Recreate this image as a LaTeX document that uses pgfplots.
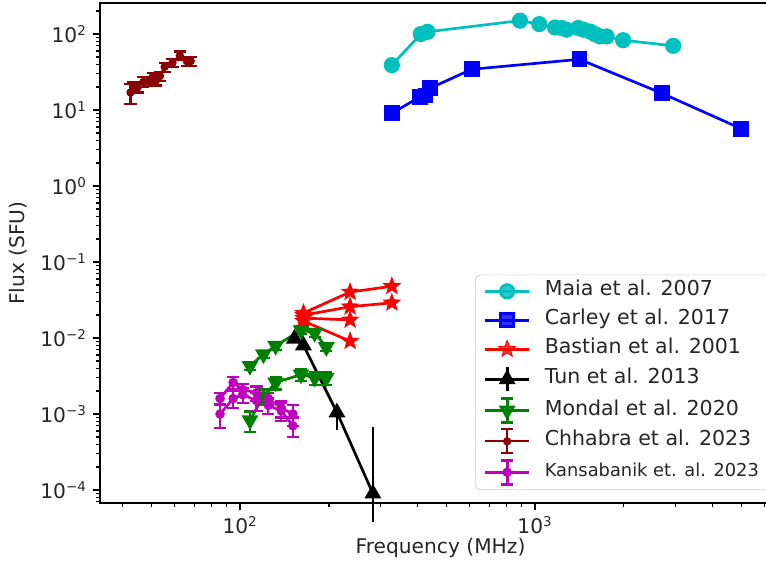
\documentclass[border=0pt]{standalone}
\usepackage{fontspec}
\setmainfont{DejaVu Sans}
\usepackage{pgfplots}
\pgfplotsset{compat=1.18}
\definecolor{cMaia}{HTML}{00BFBF}
\definecolor{cCar}{HTML}{0000FF}
\definecolor{cBas}{HTML}{FF0000}
\definecolor{cMon}{HTML}{008000}
\definecolor{cChh}{HTML}{8B0000}
\definecolor{cKan}{HTML}{BF00BF}
\pgfdeclareplotmark{fstar}{%
  \pgfpathmoveto{\pgfpointpolar{90}{\pgfplotmarksize}}%
  \pgfpathlineto{\pgfpointpolar{126}{0.42\pgfplotmarksize}}%
  \pgfpathlineto{\pgfpointpolar{162}{\pgfplotmarksize}}%
  \pgfpathlineto{\pgfpointpolar{198}{0.42\pgfplotmarksize}}%
  \pgfpathlineto{\pgfpointpolar{234}{\pgfplotmarksize}}%
  \pgfpathlineto{\pgfpointpolar{270}{0.42\pgfplotmarksize}}%
  \pgfpathlineto{\pgfpointpolar{306}{\pgfplotmarksize}}%
  \pgfpathlineto{\pgfpointpolar{342}{0.42\pgfplotmarksize}}%
  \pgfpathlineto{\pgfpointpolar{18}{\pgfplotmarksize}}%
  \pgfpathlineto{\pgfpointpolar{54}{0.42\pgfplotmarksize}}%
  \pgfpathclose
  \pgfusepathqfillstroke}
\pgfplotsset{
  ebleg/.style={legend image code/.code={
     \draw[##1,mark=none] (0cm,0cm) -- (0.92cm,0cm);
     \draw[##1,mark=none] (0.46cm,-0.25cm) -- (0.46cm,0.25cm);
     \draw[##1,mark=none] (0.34cm,-0.25cm) -- (0.58cm,-0.25cm) (0.34cm,0.25cm) -- (0.58cm,0.25cm);
     \path[##1] plot coordinates {(0.46cm,0cm)};}},
  ebnocap/.style={legend image code/.code={
     \draw[##1,mark=none] (0cm,0cm) -- (0.92cm,0cm);
     \draw[##1,mark=none] (0.46cm,-0.25cm) -- (0.46cm,0.25cm);
     \path[##1] plot coordinates {(0.46cm,0cm)};}},
  eb/.style={error bars/.cd, y dir=both, y explicit,
     error bar style={line width=1.3pt},
     error mark options={rotate=90, mark size=3.6pt, line width=1.3pt}},
  bas/.style={cBas, line width=1.6pt, mark=fstar, mark size=5.2pt, mark options={fill=cBas, line width=0.5pt}},
}
\newcommand{\lgx}[1]{\hspace*{6.5pt}#1}
\begin{document}
\begin{tikzpicture}
\begin{axis}[
  xmode=log, ymode=log,
  scale only axis, width=14.225cm, height=10.444cm,
  xmin=33.5, xmax=6826, ymin=6.74e-5, ymax=256,
  clip=false,
  axis line style={black, line width=0.9pt},
  tick pos=left, tick align=outside,
  major tick length=4.4pt, minor tick length=2.5pt,
  every tick/.style={black, line width=0.8pt},
  xtick={100,1000},
  xticklabels={10\textsuperscript{2},10\textsuperscript{3}},
  minor xtick={40,50,60,70,80,90,200,300,400,500,600,700,800,900,2000,3000,4000,5000,6000},
  ytick={1e-4,1e-3,1e-2,1e-1,1,10,100},
  yticklabels={10\textsuperscript{−4},10\textsuperscript{−3},10\textsuperscript{−2},10\textsuperscript{−1},10\textsuperscript{0},10\textsuperscript{1},10\textsuperscript{2}},
  minor ytick={7e-5,8e-5,9e-5,2e-4,3e-4,4e-4,5e-4,6e-4,7e-4,8e-4,9e-4,2e-3,3e-3,4e-3,5e-3,6e-3,7e-3,8e-3,9e-3,2e-2,3e-2,4e-2,5e-2,6e-2,7e-2,8e-2,9e-2,0.2,0.3,0.4,0.5,0.6,0.7,0.8,0.9,2,3,4,5,6,7,8,9,20,30,40,50,60,70,80,90,200},
  tick label style={font=\fontsize{12}{14}\selectfont, black!85},
  label style={font=\fontsize{12}{14}\selectfont, black!85},
  xlabel={Frequency (MHz)}, ylabel={Flux (SFU)},
  xlabel style={at={(axis description cs:0.5,-0.09)}, anchor=center},
  ylabel style={at={(axis description cs:-0.1204,0.5)}, anchor=center},
  legend cell align=left,
  legend image code/.code={\draw[mark repeat=2,mark phase=2,#1] plot coordinates {(0cm,0cm)(0.46cm,0cm)(0.92cm,0cm)};},
  legend style={at={(1,0)}, anchor=south east, xshift=-0.21cm, yshift=0.27cm,
     draw=black!20, rounded corners=3pt, fill=white, fill opacity=0.8, text opacity=1,
     font=\fontsize{12.2}{14}\selectfont, text=black!85,
     row sep=2.7pt, inner xsep=5pt, inner ysep=2.5pt,
     nodes={inner sep=2pt, text height=0.8em, text depth=0.25em}},
]
% Maia et al. 2007
\addplot[cMaia, line width=1.6pt, mark=*, mark size=4pt] table {
x y
327 39
410 100
432 107
889 150
1034 135
1169 122
1231 120
1279 114
1402 120
1458 114
1536 108
1596 100
1660 93
1749 93
1990 83
2940 70
};
\addlegendentry{\lgx{Maia et al. 2007}}
% Carley et al. 2017
\addplot[cCar, line width=1.6pt, mark=square*, mark size=3.9pt] table {
x y
327 9.06
408 15
425 15.5
440 19.3
610 34.4
1415 46.5
2695 16.6
4995 5.7
};
\addlegendentry{\lgx{Carley et al. 2017}}
% Bastian et al. 2001
\addplot[bas] table {
x y
164 0.0213
236 0.0403
327 0.048
};
\addlegendentry{\lgx{Bastian et al. 2001}}
\addplot[forget plot, bas] table {
x y
164 0.0200
236 0.0258
327 0.0291
};
\addplot[forget plot, bas] table {
x y
164 0.0183
236 0.0173
};
\addplot[forget plot, bas] table {
x y
164 0.0167
236 0.0091
};
% Tun et al. 2013
\addplot[black, line width=1.6pt, mark=triangle*, mark size=4.2pt, ebnocap,
  error bars/.cd, y dir=both, y explicit,
  error bar style={line width=1.3pt}, error mark=none]
  table[x=x, y=y, y error plus=ep, y error minus=em] {
x y ep em
152.8 0.0098 0 0
164 0.0080 0 0
213 0.00105 0.0002 0.00044
282 0.00009 0.00059 0.000052
};
\addlegendentry{\lgx{Tun et al. 2013}}
% Mondal et al. 2020
\addplot[cMon, line width=1.6pt, mark=triangle*, mark size=4.2pt, mark options={rotate=180}, ebleg, eb]
  table[x=x, y=y, y error=e] {
x y e
108 0.0043 0.0005
120 0.0061 0.0007
132 0.0079 0.0009
161 0.0127 0.0015
179 0.0117 0.0014
196 0.0076 0.0009
};
\addlegendentry{\lgx{Mondal et al. 2020}}
\addplot[forget plot, cMon, line width=1.6pt, mark=triangle*, mark size=4.2pt, mark options={rotate=180}, eb]
  table[x=x, y=y, y error=e] {
x y e
108 0.00083 0.00025
120 0.0017 0.0004
132 0.0026 0.0005
161 0.0033 0.0006
179 0.0030 0.0006
196 0.0030 0.0006
};
% Chhabra et al. 2023
\addplot[cChh, line width=1.3pt, mark=*, mark size=1.8pt, ebleg, eb]
  table[x=x, y=y, y error=e] {
x y e
42.5 17 5
43.5 20.5 3
45 20 3
47 23.5 3.5
49 24 3.5
50.5 27 4
52 25 4
53.5 28 4
55.5 37 5
59 42 5
62.5 52 7
66 44 6
68 44 6
};
\addlegendentry{\lgx{Chhabra et al. 2023}}
% Kansabanik et al. 2023
\addplot[cKan, line width=1.6pt, mark=*, mark size=2pt, ebleg, eb]
  table[x=x, y=y, y error=e] {
x y e
85.5 0.0016 0.0003
94.7 0.0026 0.0005
102 0.0021 0.0004
113.7 0.0019 0.0004
124.7 0.0016 0.0003
138 0.0012 0.0003
151 0.0010 0.0003
};
\addlegendentry{\lgx{\fontsize{10.6}{13}\selectfont Kansabanik et. al. 2023}}
\addplot[forget plot, cKan, line width=1.6pt, mark=*, mark size=2pt, eb]
  table[x=x, y=y, y error=e] {
x y e
85.5 0.0010 0.00035
94.7 0.0016 0.0004
102 0.0018 0.0004
113.7 0.0015 0.0004
124.7 0.0013 0.0003
138 0.0011 0.0003
151 0.0007 0.0002
};
\end{axis}
\pgfresetboundingbox
\path (-2.089cm,-1.337cm) rectangle (13.911cm,10.507cm);
\end{tikzpicture}
\end{document}
